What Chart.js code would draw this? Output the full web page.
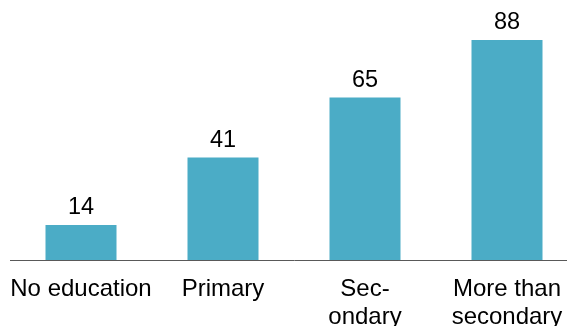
<!DOCTYPE html>
<html>
<head>
<meta charset="utf-8">
<script src="https://cdn.jsdelivr.net/npm/chart.js@4/dist/chart.umd.min.js"></script>
<style>
  html, body { margin: 0; padding: 0; background: #fff; overflow: hidden; }
  #wrap { width: 580px; height: 326px; }
</style>
</head>
<body>
<div id="wrap"><canvas id="chart" width="580" height="326"></canvas></div>
<script>
  // Chart data
  const categories = ["No education", "Primary", ["Sec-", "ondary"], ["More than", "secondary"]];
  const values = [14, 41, 65, 88];
  const barColor = "#4BACC6";

  // draws the number above each bar
  const valueLabels = {
    id: "valueLabels",
    afterDatasetsDraw(chart) {
      const ctx = chart.ctx;
      const meta = chart.getDatasetMeta(0);
      ctx.save();
      ctx.font = "23.5px 'Liberation Sans', Arial, sans-serif";
      ctx.fillStyle = "#000";
      ctx.textAlign = "center";
      ctx.textBaseline = "alphabetic";
      meta.data.forEach((bar, i) => {
        ctx.fillText(String(values[i]), bar.x, bar.y - 11);
      });
      ctx.restore();
    },
  };

  new Chart(document.getElementById("chart").getContext("2d"), {
    type: "bar",
    data: {
      labels: categories,
      datasets: [{
        data: values,
        backgroundColor: barColor,
        borderWidth: 0,
        categoryPercentage: 1,
        barPercentage: 0.5,
      }],
    },
    options: {
      responsive: false,
      animation: false,
      devicePixelRatio: 1,
      layout: { padding: { top: 10, left: 10, right: 2, bottom: 0 } },
      plugins: {
        legend: { display: false },
        tooltip: { enabled: false },
      },
      scales: {
        x: {
          grid: { display: false },
          border: { display: true, color: "#595959", width: 1 },
          ticks: {
            color: "#000",
            padding: 8,
            autoSkip: false,
            maxRotation: 0,
            font: { family: "'Liberation Sans', Arial, sans-serif", size: 24, lineHeight: 1.15 },
          },
          afterFit: (s) => { s.height = 66; },
        },
        y: {
          display: false,
          min: 0,
          max: 100,
        },
      },
    },
    plugins: [valueLabels],
  });
</script>
</body>
</html>
